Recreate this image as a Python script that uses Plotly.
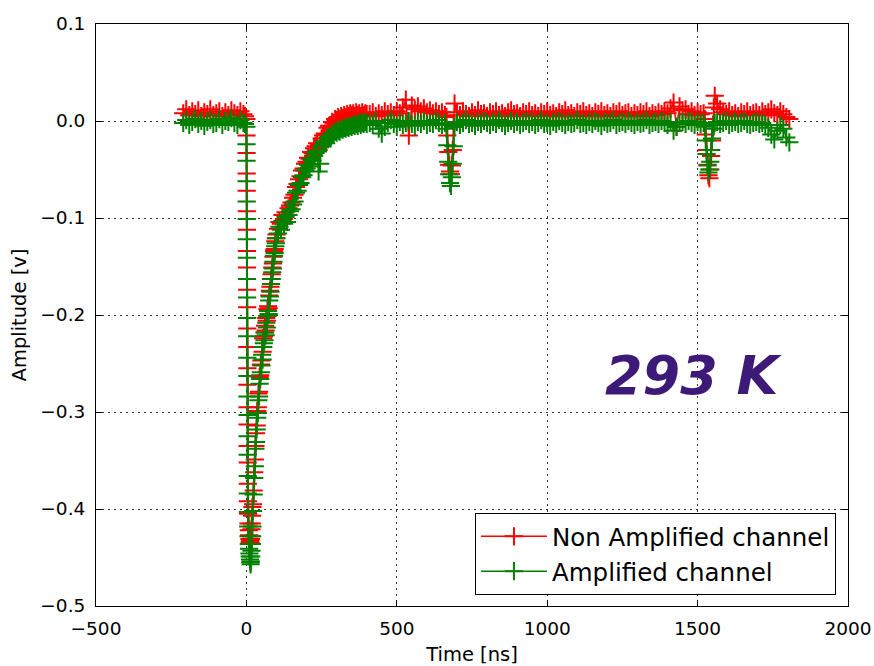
import plotly.graph_objects as go

# ---------------- data ----------------
# time samples [ns], split into segments
t_pre = [-210, -200, -190, -180, -170, -160, -150, -140, -130, -120, -110,
         -100, -90, -80, -70, -60, -50, -40, -30, -20, -10, -5]
t_fall = [0, 0.25, 0.5, 0.75, 1, 1.25, 1.5, 1.75, 2, 2.25, 2.5, 2.75, 3,
          3.25, 3.5, 3.75, 4, 4.25, 4.5, 4.75, 5]
t_bot = [6, 7, 8, 9, 10, 11, 12, 13, 14, 15, 16, 17, 18, 19, 20]
t_rise1 = [22, 24, 26, 28, 30, 32, 34, 36, 38, 40, 42, 44, 46, 48, 50, 52,
           54, 56, 58, 60, 62, 64, 66, 68, 70, 72, 74, 76, 78, 80, 82, 84,
           86, 88, 90, 92, 94, 96, 98, 100]
t_rise2 = [105, 110, 115, 120, 125, 130, 135, 140, 145, 150, 155, 160, 165,
           170, 175, 180, 185, 190, 195, 200, 205, 210, 215, 220, 225, 230,
           235, 240, 245, 250, 255, 260, 265, 270, 275, 280, 285, 290, 295,
           300, 305, 310, 315, 320, 325, 330, 335, 340, 345, 350, 355, 360,
           365, 370, 375, 380, 385, 390, 395, 400]
t_tail_a = [410, 420, 430, 440, 450, 460, 470, 480, 490, 500, 510, 520, 530,
            540, 550, 560, 570, 580, 590, 600, 610, 620, 630, 640, 650, 660]
t_dip1 = [665, 668, 671, 674, 677, 680, 683, 686, 689, 692]
t_tail_b = [700, 710, 720, 730, 740, 750, 760, 770, 780, 790,
            800, 810, 820, 830, 840, 850, 860, 870, 880, 890,
            900, 910, 920, 930, 940, 950, 960, 970, 980, 990,
            1000, 1010, 1020, 1030, 1040, 1050, 1060, 1070, 1080, 1090,
            1100, 1110, 1120, 1130, 1140, 1150, 1160, 1170, 1180, 1190,
            1200, 1210, 1220, 1230, 1240, 1250, 1260, 1270, 1280, 1290,
            1300, 1310, 1320, 1330, 1340, 1350, 1360, 1370, 1380, 1390,
            1400, 1410, 1420, 1430, 1440, 1450, 1460, 1470, 1480, 1490,
            1500, 1510, 1520]
t_dip2 = [1524, 1527, 1530, 1533, 1536, 1539, 1542, 1545, 1548, 1551, 1554, 1557]
t_tail_c = [1565, 1575, 1585, 1595, 1605, 1615, 1625, 1635, 1645, 1655, 1665,
            1675, 1685, 1695, 1705, 1715, 1725, 1735, 1745, 1755, 1765, 1775,
            1785, 1795, 1805]

# Amplified channel (green) [V]
g_pre = [-0.002, 0.001, -0.004, -0.001, 0.002, -0.003, 0.000, -0.005, -0.001,
         0.001, -0.003, -0.002, 0.002, -0.004, 0.000, -0.001, 0.003, -0.002,
         -0.004, 0.001, -0.002, -0.003]
g_fall = [-0.006, -0.024, -0.041, -0.062, -0.083, -0.101, -0.122, -0.141,
          -0.163, -0.182, -0.203, -0.222, -0.244, -0.263, -0.284, -0.303,
          -0.325, -0.344, -0.366, -0.384, -0.403]
g_bot = [-0.418, -0.428, -0.436, -0.441, -0.446, -0.449, -0.452, -0.455,
         -0.457, -0.454, -0.449, -0.443, -0.436, -0.428, -0.418]
g_rise1 = [-0.402, -0.385, -0.368, -0.356, -0.338, -0.331, -0.318, -0.306,
           -0.301, -0.288, -0.284, -0.271, -0.266, -0.259, -0.252, -0.241,
           -0.246, -0.233, -0.229, -0.226, -0.218, -0.221, -0.208, -0.213,
           -0.201, -0.196, -0.199, -0.185, -0.181, -0.176, -0.168, -0.163,
           -0.156, -0.152, -0.145, -0.139, -0.136, -0.129, -0.126, -0.121]
g_rise2 = [-0.116, -0.109, -0.112, -0.103, -0.106, -0.099, -0.104, -0.097,
           -0.093, -0.091, -0.086, -0.083, -0.074, -0.072, -0.066, -0.064,
           -0.058, -0.056, -0.051, -0.049, -0.045, -0.047, -0.039, -0.041,
           -0.036, -0.033, -0.031, -0.052, -0.044, -0.026, -0.024, -0.021,
           -0.023, -0.017, -0.016, -0.018, -0.013, -0.014, -0.011, -0.012,
           -0.009, -0.011, -0.008, -0.009, -0.007, -0.008, -0.006, -0.007,
           -0.005, -0.006, -0.004, -0.005, -0.003, -0.005, -0.002, -0.004,
           -0.002, -0.003, -0.001, -0.003]
g_tail_a = [-0.002, -0.004, 0.000, -0.008, -0.013, -0.006, -0.002, 0.001,
            -0.003, -0.006, -0.001, -0.004, -0.002, 0.000, -0.003, -0.005,
            -0.001, -0.003, 0.000, -0.004, -0.002, -0.003, 0.001, -0.002,
            -0.004, -0.002]
g_dip1 = [-0.008, -0.025, -0.042, -0.055, -0.064, -0.067, -0.058, -0.044,
          -0.026, -0.006]
g_tail_b = [-0.001, -0.004, -0.002, 0.001, -0.003, -0.002, -0.005, -0.001, -0.003, 0.000,
            -0.002, -0.004, -0.001, -0.003, 0.001, -0.002, -0.005, -0.002, 0.000, -0.003,
            -0.001, -0.004, -0.002, 0.000, -0.003, -0.001, -0.004, -0.002, 0.001, -0.003,
            -0.002, -0.005, -0.001, -0.003, 0.000, -0.002, -0.004, -0.001, -0.003, -0.002,
            0.001, -0.003, -0.002, -0.004, -0.001, -0.003, 0.000, -0.002, -0.005, -0.001,
            -0.003, -0.002, 0.001, -0.004, -0.002, -0.001, -0.003, 0.000, -0.002, -0.004,
            -0.001, -0.003, -0.002, 0.001, -0.004, -0.002, -0.001, -0.003, 0.000, -0.002,
            -0.004, -0.001, -0.010, -0.006, -0.002, -0.001, -0.003, 0.000, -0.002, -0.004,
            -0.001, -0.003, -0.002]
g_dip2 = [-0.006, -0.020, -0.034, -0.046, -0.053, -0.050, -0.042, -0.030,
          -0.018, -0.008, -0.004, -0.002]
g_tail_c = [-0.001, -0.003, -0.002, 0.000, -0.004, -0.002, -0.001, -0.003,
            -0.002, 0.000, -0.003, -0.004, -0.002, -0.001, -0.003, -0.002,
            -0.004, -0.007, -0.014, -0.019, -0.010, -0.004, -0.008, -0.017,
            -0.022]

# Non amplified channel (red) [V]
r_pre = [0.008, 0.012, 0.006, 0.010, 0.007, 0.011, 0.005, 0.009, 0.007, 0.012,
         0.006, 0.008, 0.010, 0.005, 0.009, 0.006, 0.011, 0.008, 0.006, 0.010,
         0.007, 0.005]
r_fall = [0.002, -0.015, -0.033, -0.054, -0.072, -0.093, -0.112, -0.134,
          -0.151, -0.174, -0.192, -0.214, -0.233, -0.255, -0.272, -0.295,
          -0.313, -0.335, -0.352, -0.374, -0.392]
r_bot = [-0.405, -0.415, -0.422, -0.427, -0.431, -0.434, -0.436, -0.433,
         -0.435, -0.431, -0.428, -0.421, -0.415, -0.407, -0.398]
r_rise1 = [-0.395, -0.381, -0.362, -0.349, -0.335, -0.322, -0.314, -0.299,
           -0.295, -0.281, -0.279, -0.264, -0.262, -0.251, -0.247, -0.233,
           -0.238, -0.224, -0.222, -0.218, -0.211, -0.216, -0.203, -0.206,
           -0.194, -0.191, -0.193, -0.180, -0.175, -0.171, -0.163, -0.158,
           -0.151, -0.147, -0.140, -0.134, -0.132, -0.124, -0.121, -0.117]
r_rise2 = [-0.111, -0.104, -0.106, -0.097, -0.101, -0.094, -0.097, -0.090,
           -0.087, -0.084, -0.079, -0.076, -0.068, -0.065, -0.060, -0.057,
           -0.051, -0.049, -0.044, -0.042, -0.038, -0.039, -0.032, -0.033,
           -0.028, -0.026, -0.023, -0.030, -0.027, -0.018, -0.015, -0.013,
           -0.014, -0.007, -0.005, -0.006, -0.001, -0.002, 0.002, 0.001,
           0.004, 0.002, 0.005, 0.003, 0.006, 0.004, 0.007, 0.005, 0.008,
           0.006, 0.008, 0.005, 0.009, 0.006, 0.008, 0.005, 0.009, 0.006,
           0.008, 0.007]
r_tail_a = [0.007, 0.009, 0.005, 0.008, 0.006, 0.010, 0.007, 0.009, 0.006,
            0.010, 0.008, 0.014, 0.022, -0.015, 0.016, 0.012, 0.015, 0.010,
            0.013, 0.009, 0.011, 0.008, 0.010, 0.007, 0.009, 0.006]
r_dip1 = [0.004, -0.015, -0.032, -0.045, -0.052, -0.055, -0.046, -0.030,
          -0.006, 0.018]
r_tail_b = [0.009, 0.006, 0.010, 0.007, 0.005, 0.009, 0.006, 0.011, 0.007, 0.008,
            0.005, 0.009, 0.007, 0.010, 0.006, 0.008, 0.005, 0.009, 0.011, 0.007,
            0.008, 0.005, 0.009, 0.007, 0.010, 0.006, 0.008, 0.005, 0.009, 0.007,
            0.010, 0.006, 0.008, 0.005, 0.009, 0.007, 0.011, 0.006, 0.008, 0.005,
            0.009, 0.007, 0.010, 0.006, 0.008, 0.005, 0.009, 0.007, 0.010, 0.006,
            0.008, 0.005, 0.009, 0.007, 0.010, 0.006, 0.008, 0.009, 0.005, 0.008,
            0.006, 0.009, 0.007, 0.010, 0.005, 0.008, 0.006, 0.009, 0.007, 0.010,
            0.008, 0.013, 0.019, -0.006, 0.015, 0.011, 0.012, 0.007, 0.010, 0.006,
            0.009, 0.007, 0.008]
r_dip2 = [0.002, -0.014, -0.030, -0.045, -0.056, -0.059, -0.050, -0.036,
          -0.020, -0.004, 0.014, 0.026]
r_tail_c = [0.018, 0.012, 0.009, 0.007, 0.010, 0.006, 0.008, 0.005, 0.009,
            0.007, 0.010, 0.006, 0.008, 0.009, 0.006, 0.010, 0.007, 0.009,
            0.012, 0.008, 0.006, 0.010, 0.007, 0.004, 0.002]

time_ns = t_pre + t_fall + t_bot + t_rise1 + t_rise2 + t_tail_a + t_dip1 + t_tail_b + t_dip2 + t_tail_c
amp_green = g_pre + g_fall + g_bot + g_rise1 + g_rise2 + g_tail_a + g_dip1 + g_tail_b + g_dip2 + g_tail_c
amp_red = r_pre + r_fall + r_bot + r_rise1 + r_rise2 + r_tail_a + r_dip1 + r_tail_b + r_dip2 + r_tail_c

series_names = ["Non Amplified channel", "Amplified channel"]
x_ticks = [-500, 0, 500, 1000, 1500, 2000]
y_ticks = [-0.5, -0.4, -0.3, -0.2, -0.1, 0.0, 0.1]
label_text = "293 K"

# ---------------- figure ----------------
FONT = "DejaVu Sans"
fig = go.Figure()
for name, yv, col, grp in [(series_names[0], amp_red, "#ff0000", "a"),
                           (series_names[1], amp_green, "#008000", "b")]:
    fig.add_trace(go.Scatter(
        x=time_ns, y=yv, mode="lines+markers", name=name, legendgroup=grp,
        line=dict(color=col, width=1.5),
        marker=dict(symbol="cross-thin", size=13, color=col,
                    line=dict(color=col, width=2)),
    ))

fig.add_annotation(x=1488, y=-0.262, xref="x", yref="y", text=label_text,
                   showarrow=False,
                   font=dict(family=FONT, size=54, color="#3d1a78",
                             weight="bold", style="italic"))

axis_common = dict(showline=True, linecolor="black", linewidth=1,
                   mirror="ticks", ticks="inside", ticklen=6,
                   tickcolor="black", tickwidth=1,
                   showgrid=True, gridcolor="#333333", gridwidth=1,
                   griddash="2px,4px", zeroline=False, automargin=False,
                   tickfont=dict(family=FONT, size=18.5, color="black"))

fig.update_layout(
    width=874, height=666,
    margin=dict(l=96, r=26, t=24, b=60),
    paper_bgcolor="white", plot_bgcolor="white",
    font=dict(family=FONT, color="black"),
    xaxis=dict(range=[-500, 2000], tickvals=x_ticks,
               ticklabelstandoff=6,
               title=dict(text="Time [ns]", standoff=10,
                          font=dict(family=FONT, size=19.5)),
               **axis_common),
    yaxis=dict(range=[-0.5, 0.1], tickvals=y_ticks, tickformat=".1f",
               ticklabelstandoff=6,
               title=dict(text="Amplitude [v]", standoff=8,
                          font=dict(family=FONT, size=19.5)),
               **axis_common),
    legend=dict(x=0.984, y=0.019, xanchor="right", yanchor="bottom",
                bgcolor="white", bordercolor="black", borderwidth=1,
                font=dict(family=FONT, size=24.5, color="black"),
                traceorder="grouped", tracegroupgap=0, itemwidth=66),
    showlegend=True,
)

fig.write_html("out.html",
               config={"displayModeBar": False},
               post_script="document.body.style.margin='0';"
                           "document.body.style.overflow='hidden';")
